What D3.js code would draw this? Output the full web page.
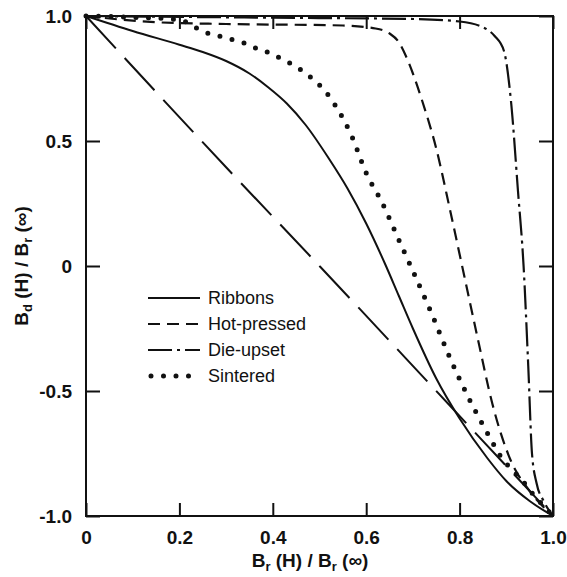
<!DOCTYPE html>
<html>
<head>
<meta charset="utf-8">
<script src="https://cdn.jsdelivr.net/npm/d3@7"></script>
<style>
  body { margin: 0; background: #fff; }
  svg text { font-family: 'Liberation Sans', Arial, Helvetica, sans-serif; fill: #111; }
</style>
</head>
<body>
<svg id="chart" width="567" height="577"></svg>
<script>
// tick values and labels
const xTicks = [0, 0.2, 0.4, 0.6, 0.8, 1.0];
const xTickLabels = ['0', '0.2', '0.4', '0.6', '0.8', '1.0'];
const yTicks = [1.0, 0.5, 0, -0.5, -1.0];
const yTickLabels = ['1.0', '0.5', '0', '-0.5', '-1.0'];

// curves
const ribbonsX = [0, 0.1, 0.2, 0.25, 0.3, 0.35, 0.39, 0.43, 0.47, 0.52, 0.56, 0.6, 0.64, 0.67, 0.7, 0.75, 0.8, 0.86, 0.9, 0.95, 1.0];
const ribbonsY = [1, 0.94, 0.885, 0.856, 0.82, 0.77, 0.715, 0.65, 0.565, 0.43, 0.31, 0.17, 0.01, -0.12, -0.25, -0.45, -0.61, -0.77, -0.86, -0.94, -1];

const hotPressedX = [0, 0.15, 0.3, 0.55, 0.62, 0.65, 0.67, 0.685, 0.7, 0.72, 0.75, 0.78, 0.81, 0.84, 0.87, 0.91, 0.95, 1.0];
const hotPressedY = [1, 0.975, 0.968, 0.962, 0.95, 0.93, 0.895, 0.84, 0.77, 0.66, 0.47, 0.22, -0.04, -0.3, -0.55, -0.78, -0.9, -1];

const dieUpsetX = [0, 0.4, 0.7, 0.8, 0.85, 0.875, 0.895, 0.91, 0.925, 0.937, 0.947, 0.955, 0.965, 0.98, 1.0];
const dieUpsetY = [1, 0.993, 0.988, 0.978, 0.955, 0.92, 0.86, 0.66, 0.3, 0.0, -0.4, -0.75, -0.87, -0.94, -1];

const sinteredX = [0, 0.1, 0.2, 0.237, 0.263, 0.29, 0.316, 0.342, 0.368, 0.393, 0.423, 0.444, 0.464, 0.483, 0.51, 0.536, 0.568, 0.6, 0.635, 0.67, 0.7, 0.74, 0.78, 0.82, 0.86, 0.895, 0.913, 0.942, 0.955, 0.975, 1.0];
const sinteredY = [1, 0.995, 0.985, 0.952, 0.93, 0.918, 0.904, 0.89, 0.868, 0.852, 0.824, 0.804, 0.78, 0.752, 0.704, 0.636, 0.524, 0.372, 0.25, 0.104, -0.02, -0.19, -0.37, -0.53, -0.67, -0.78, -0.816, -0.876, -0.908, -0.95, -1];

// the unlabeled long-dash reference line
const refX = [0, 0.3, 0.5, 0.78, 1.0];
const refY = [1, 0.395, 0, -0.56, -1];

const legendLabels = ['Ribbons', 'Hot-pressed', 'Die-upset', 'Sintered'];

const svg = d3.select('#chart');
const x = d3.scaleLinear().domain([0, 1]).range([86, 553]);
const y = d3.scaleLinear().domain([-1, 1]).range([516, 16]);

const zip = (xs, ys) => xs.map((v, i) => [v, ys[i]]);
const line = d3.line()
  .x(d => x(d[0]))
  .y(d => y(d[1]))
  .curve(d3.curveMonotoneX);

const series = [
  { name: 'Ribbons', pts: zip(ribbonsX, ribbonsY), dash: null, width: 2 },
  { name: 'Hot-pressed', pts: zip(hotPressedX, hotPressedY), dash: '12 7', width: 2.2 },
  { name: 'Die-upset', pts: zip(dieUpsetX, dieUpsetY), dash: '24 5 3 5', width: 2.2 },
  { name: 'Sintered', pts: zip(sinteredX, sinteredY), dash: '0 12.5', width: 5, cap: 'round' }
];

const plot = svg.append('g');

// reference diagonal
plot.append('path')
  .attr('d', line(zip(refX, refY)))
  .attr('fill', 'none')
  .attr('stroke', '#111')
  .attr('stroke-width', 2)
  .attr('stroke-dasharray', '44 13');

plot.selectAll('.curve')
  .data(series)
  .enter()
  .append('path')
  .attr('class', 'curve')
  .attr('d', d => line(d.pts))
  .attr('fill', 'none')
  .attr('stroke', '#111')
  .attr('stroke-width', d => d.width)
  .attr('stroke-linecap', d => d.cap || 'butt')
  .attr('stroke-dasharray', d => d.dash);

// axes, ticks point inward
const fmtX = d => xTickLabels[xTicks.indexOf(d)];
const fmtY = d => yTickLabels[yTicks.indexOf(d)];

const styleAxis = g => {
  g.select('.domain').remove();
  g.selectAll('line').attr('stroke', '#111').attr('stroke-width', 2);
  g.selectAll('text').attr('font-size', 19).attr('font-weight', 'bold').attr('fill', '#111');
};

svg.append('g')
  .attr('transform', `translate(0,${y(-1)})`)
  .call(d3.axisBottom(x).tickValues(xTicks).tickFormat(fmtX).tickSize(-13).tickSizeOuter(0).tickPadding(15))
  .call(styleAxis);

svg.append('g')
  .attr('transform', `translate(0,${y(1)})`)
  .call(d3.axisTop(x).tickValues(xTicks).tickFormat('').tickSize(-13).tickSizeOuter(0))
  .call(styleAxis);

svg.append('g')
  .attr('transform', `translate(${x(0)},0)`)
  .call(d3.axisLeft(y).tickValues(yTicks).tickFormat(fmtY).tickSize(-14).tickSizeOuter(0).tickPadding(14))
  .call(styleAxis);

svg.append('g')
  .attr('transform', `translate(${x(1)},0)`)
  .call(d3.axisRight(y).tickValues(yTicks).tickFormat('').tickSize(-14).tickSizeOuter(0))
  .call(styleAxis);

// frame
svg.append('rect')
  .attr('x', x(0))
  .attr('y', y(1))
  .attr('width', x(1) - x(0))
  .attr('height', y(-1) - y(1))
  .attr('fill', 'none')
  .attr('stroke', '#111')
  .attr('stroke-width', 2);

// axis titles
const xTitle = svg.append('text')
  .attr('x', 310)
  .attr('y', 567)
  .attr('text-anchor', 'middle')
  .attr('font-size', 19)
  .attr('font-weight', 'bold');
xTitle.append('tspan').text('B');
xTitle.append('tspan').attr('font-size', 13).attr('dy', 4).text('r');
xTitle.append('tspan').attr('dy', -4).text(' (H) / B');
xTitle.append('tspan').attr('font-size', 13).attr('dy', 4).text('r');
xTitle.append('tspan').attr('dy', -4).text(' (\u221E)');

const yTitle = svg.append('text')
  .attr('transform', 'translate(28,266) rotate(-90)')
  .attr('text-anchor', 'middle')
  .attr('font-size', 19)
  .attr('font-weight', 'bold');
yTitle.append('tspan').text('B');
yTitle.append('tspan').attr('font-size', 13).attr('dy', 4).text('d');
yTitle.append('tspan').attr('dy', -4).text(' (H) / B');
yTitle.append('tspan').attr('font-size', 13).attr('dy', 4).text('r');
yTitle.append('tspan').attr('dy', -4).text(' (\u221E)');

// legend
const legend = svg.append('g').attr('transform', 'translate(148,298)');
const item = legend.selectAll('.item')
  .data(series)
  .enter()
  .append('g')
  .attr('class', 'item')
  .attr('transform', (d, i) => `translate(0,${i * 26})`);

item.append('line')
  .attr('x1', d => d.cap ? 3 : 0)
  .attr('x2', 52)
  .attr('stroke', '#111')
  .attr('stroke-width', d => d.width)
  .attr('stroke-linecap', d => d.cap || 'butt')
  .attr('stroke-dasharray', d => d.dash);

item.append('text')
  .attr('x', 60)
  .attr('dy', '0.35em')
  .attr('font-size', 18)
  .text((d, i) => legendLabels[i]);
</script>
</body>
</html>
